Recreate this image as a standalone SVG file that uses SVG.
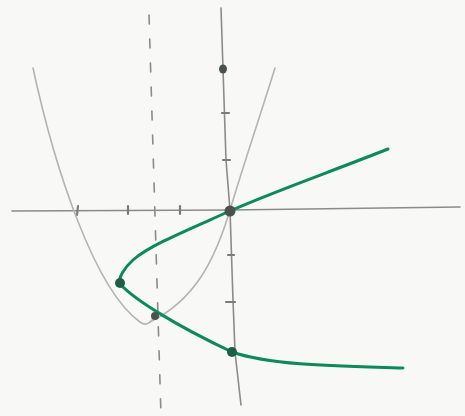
<svg xmlns="http://www.w3.org/2000/svg" width="465" height="416" viewBox="0 0 465 416">
<style>
.axis{fill:none;stroke:#8e8a8a;stroke-width:1.6;stroke-linecap:round}
.tick{fill:none;stroke:#7d7a7a;stroke-width:2.2;stroke-linecap:round}
.para{fill:none;stroke:#b4b4b4;stroke-width:1.6;stroke-linecap:round}
.dash{fill:none;stroke:#8a8a8a;stroke-width:1.6;stroke-dasharray:9 15;stroke-linecap:round}
.inv{fill:none;stroke:#0b8a5a;stroke-width:3;stroke-linecap:round;stroke-linejoin:round}
.pt{fill:#4a524e}
.gpt{fill:#1f5e45}
</style>
<rect width="465" height="416" fill="#f8f8f6"/>
<g id="axes">
<path class="axis" d="M12,211 L230,210 L460,207"/>
<path class="axis" d="M221,8 L223,69 L226,160 L230,210 L233,300 L235,352 L241,405"/>
<path class="tick" d="M78,206 L77,215 M128,206 L128,214 M180,206 L180,214"/>
<path class="tick" d="M222,113 L229,113 M223,160 L230,160 M228,255 L234,255 M226,302 L235,302"/>
</g>
<g id="asymptote"><path class="dash" d="M149,15 L161,416"/></g>
<g id="parabola">
<path class="para" d="M33,68 C55,170 95,290 140,322 Q147,327 152,320"/>
<path class="para" d="M150,322 C195,300 215,260 230,210 C245,160 262,110 275,68"/>
</g>
<g id="inverse">
<path class="inv" d="M388,149 C330,172 270,193 230,211 C190,229 150,245 133,260 C124,268 118,278 120,284"/>
<path class="inv" d="M120,284 C135,300 175,325 232,352 C270,365 330,366 403,368"/>
</g>
<g id="points">
<ellipse id="p-top" class="pt" cx="223" cy="69" rx="4" ry="4.5"/>
<circle id="p-origin" class="pt" cx="230" cy="211" r="5.5"/>
<circle id="p-vertex" class="gpt" cx="120" cy="283" r="5"/>
<circle id="p-cross" class="pt" cx="155" cy="316" r="4"/>
<circle id="p-bottom" class="gpt" cx="232" cy="352" r="5"/>
</g>
</svg>
